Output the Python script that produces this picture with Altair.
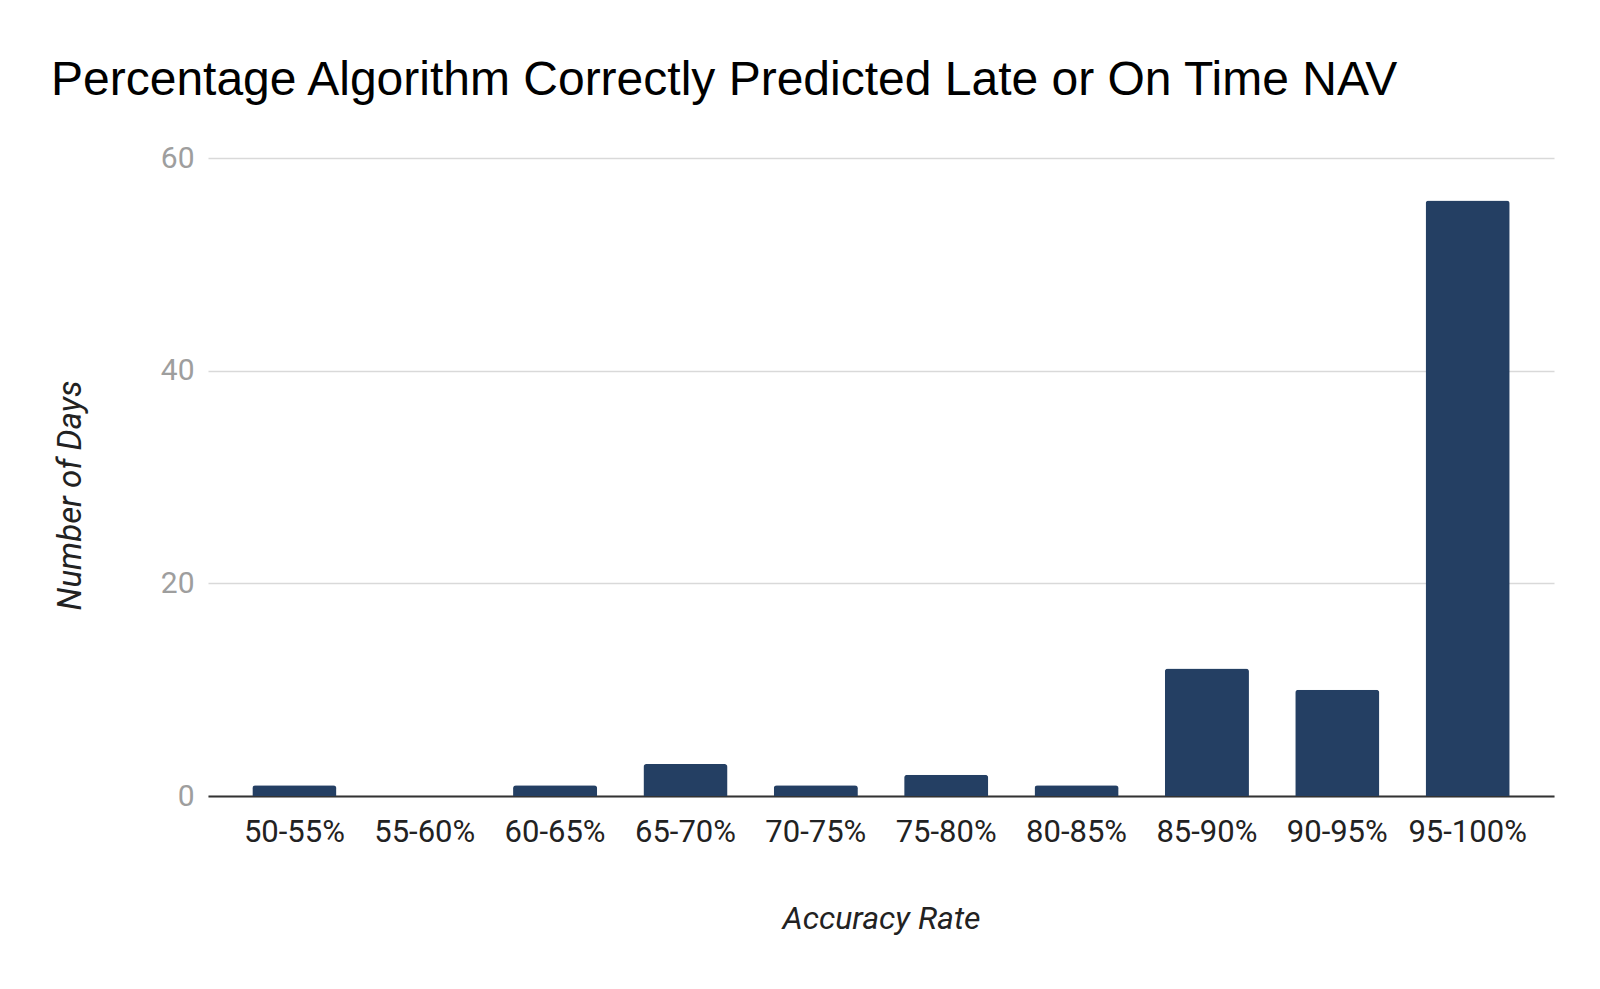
import altair as alt
import pandas as pd

categories = ["50-55%", "55-60%", "60-65%", "65-70%", "70-75%", "75-80%", "80-85%", "85-90%", "90-95%", "95-100%"]
days = [1, 0, 1, 3, 1, 2, 1, 12, 10, 56]

df = pd.DataFrame({"rate": categories, "days": days})

bars = alt.Chart(df).mark_bar(color="#243f63", cornerRadiusTopLeft=3, cornerRadiusTopRight=3).encode(
    x=alt.X("rate:N", sort=categories, title="Accuracy Rate",
            scale=alt.Scale(paddingInner=0.355, paddingOuter=0.34),
            axis=alt.Axis(labelAngle=0, labelFont="Roboto", labelFontSize=31, labelColor="#222222",
                          titleFont="Roboto", titleFontSize=32, titleFontStyle="italic", titleFontWeight="normal",
                          titleColor="#222222", titlePadding=56, labelPadding=21,
                          domain=True, domainColor="#333333", domainWidth=2, ticks=False)),
    y=alt.Y("days:Q", title="Number of Days",
            scale=alt.Scale(domain=[0, 60], nice=False),
            axis=alt.Axis(values=[0, 20, 40, 60], labelFont="Roboto", labelFontSize=30, labelColor="#9e9e9e",
                          titleFont="Roboto", titleFontSize=33, titleFontStyle="italic", titleFontWeight="normal",
                          titleColor="#222222", titleX=-138, titleY=337, titleAngle=270,
                          titleBaseline="middle", titleAlign="center", labelPadding=14,
                          domain=False, ticks=False, gridColor="#d9d9d9", gridWidth=1.5)),
)

chart = bars.properties(
    width=1346, height=638,
    padding={"left": 200, "top": 150, "right": 30, "bottom": 180},
    autosize=alt.AutoSizeParams(type="none"),
    title=alt.TitleParams("Percentage Algorithm Correctly Predicted Late or On Time NAV",
                          anchor="start", frame="group", font="Liberation Sans", fontSize=48, fontWeight="normal",
                          color="#000000", dx=-157, offset=38),
).configure_view(stroke=None)

chart.save("out.html", embed_options={"renderer": "svg", "actions": False})
